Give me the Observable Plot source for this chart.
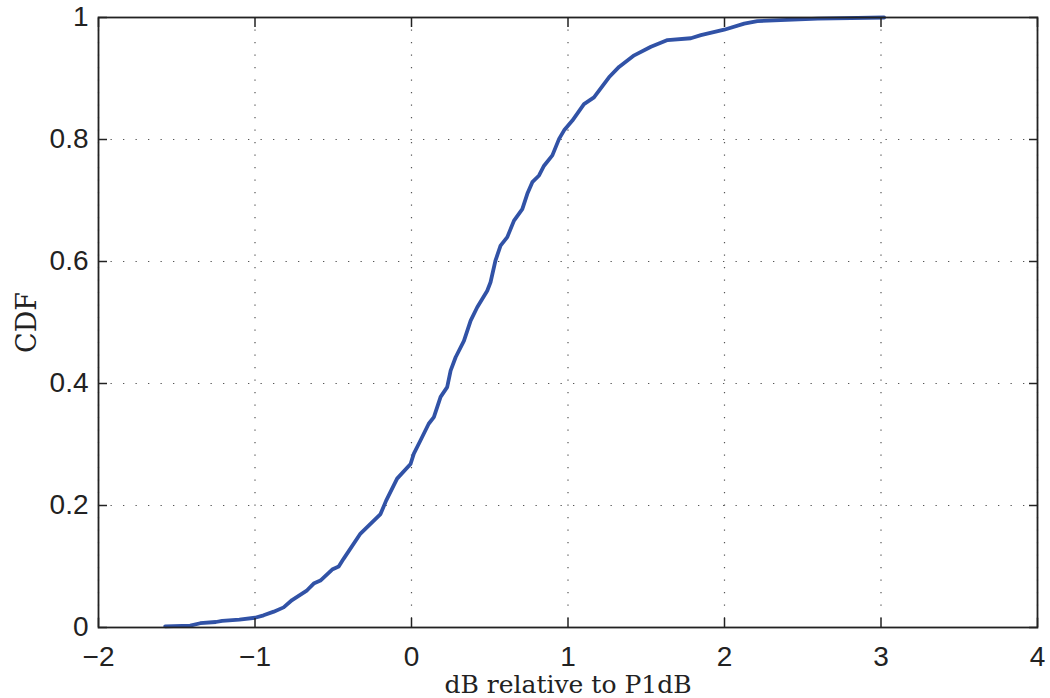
<!DOCTYPE html>
<html>
<head>
<meta charset="utf-8">
<script src="https://cdn.jsdelivr.net/npm/d3@7"></script>
<script src="https://cdn.jsdelivr.net/npm/@observablehq/plot@0.6"></script>
<style>
  html, body { margin: 0; padding: 0; background: #fff; }
  #chart { width: 1050px; height: 698px; }
</style>
</head>
<body>
<div id="chart"></div>
<script>
const cdfX = [-1.574, -1.414, -1.35, -1.25, -1.21, -1.10, -1.00, -0.945, -0.88, -0.817,
  -0.763, -0.667, -0.625, -0.582, -0.507, -0.465, -0.433, -0.326, -0.262, -0.198,
  -0.162, -0.092, -0.006, 0.015, 0.058, 0.11, 0.143, 0.186, 0.228, 0.25,
  0.282, 0.335, 0.378, 0.42, 0.484, 0.505, 0.537, 0.569, 0.612, 0.655,
  0.708, 0.74, 0.772, 0.815, 0.847, 0.90, 0.943, 0.975, 1.028, 1.102,
  1.166, 1.262, 1.326, 1.423, 1.53, 1.636, 1.785, 1.849, 1.998, 2.126,
  2.21, 2.596, 3.02];
const cdfP = [0.002, 0.003, 0.007, 0.009, 0.011, 0.013, 0.016, 0.020, 0.026, 0.033,
  0.045, 0.061, 0.072, 0.077, 0.095, 0.100, 0.113, 0.154, 0.170, 0.186,
  0.208, 0.244, 0.268, 0.285, 0.307, 0.334, 0.345, 0.378, 0.394, 0.421,
  0.443, 0.470, 0.503, 0.525, 0.552, 0.566, 0.602, 0.626, 0.640, 0.667,
  0.686, 0.711, 0.730, 0.741, 0.757, 0.774, 0.801, 0.815, 0.831, 0.858,
  0.869, 0.902, 0.919, 0.938, 0.952, 0.963, 0.966, 0.971, 0.980, 0.990,
  0.994, 0.998, 1.0];

const xTicks = [-2, -1, 0, 1, 2, 3, 4];
const yTicks = [0, 0.2, 0.4, 0.6, 0.8, 1];
const xLabel = "dB relative to P1dB";
const yLabel = "CDF";

const data = cdfX.map((x, i) => ({x, p: cdfP[i]}));
const fmt = d => String(d).replace("-", "\u2212");

const gridStyle = {stroke: "#555", strokeOpacity: 1, strokeWidth: 1.2, strokeDasharray: "1.3,11.2"};
const serif = "DejaVu Serif, Liberation Serif, serif";

const chart = Plot.plot({
  width: 1050,
  height: 698,
  marginLeft: 98,
  marginRight: 13,
  marginTop: 17,
  marginBottom: 71,
  style: {fontFamily: "Liberation Sans, Arial, Helvetica, sans-serif", fontSize: "28px", background: "#fff", color: "#222", overflow: "visible"},
  x: {domain: [-2, 4]},
  y: {domain: [0, 1]},
  marks: [
    Plot.gridX(xTicks, gridStyle),
    Plot.gridY(yTicks, gridStyle),
    Plot.line(data, {x: "x", y: "p", stroke: "#3152a6", strokeWidth: 3.8, strokeLinejoin: "round", strokeLinecap: "round"}),
    Plot.frame({stroke: "#222", strokeWidth: 1.8}),
    Plot.axisX(xTicks, {anchor: "bottom", tickSize: -9, tickPadding: 28, tickFormat: fmt, label: null, fontSize: 28, strokeWidth: 1.5}),
    Plot.axisX(xTicks, {anchor: "top", tickSize: -9, tickFormat: () => "", label: null, strokeWidth: 1.5}),
    Plot.axisY(yTicks, {anchor: "left", tickSize: -9, tickPadding: 19, tickFormat: fmt, label: null, fontSize: 28, strokeWidth: 1.5}),
    Plot.axisY(yTicks, {anchor: "right", tickSize: -9, tickFormat: () => "", label: null, strokeWidth: 1.5}),
    Plot.text([xLabel], {frameAnchor: "bottom", dy: 65, lineAnchor: "bottom", textAnchor: "middle", fontFamily: serif, fontSize: 25, fill: "#222"}),
    Plot.text([yLabel], {frameAnchor: "left", dx: -63, rotate: -90, lineAnchor: "bottom", textAnchor: "middle", fontFamily: serif, fontSize: 27, fill: "#222"})
  ]
});
document.getElementById("chart").append(chart);
</script>
</body>
</html>
